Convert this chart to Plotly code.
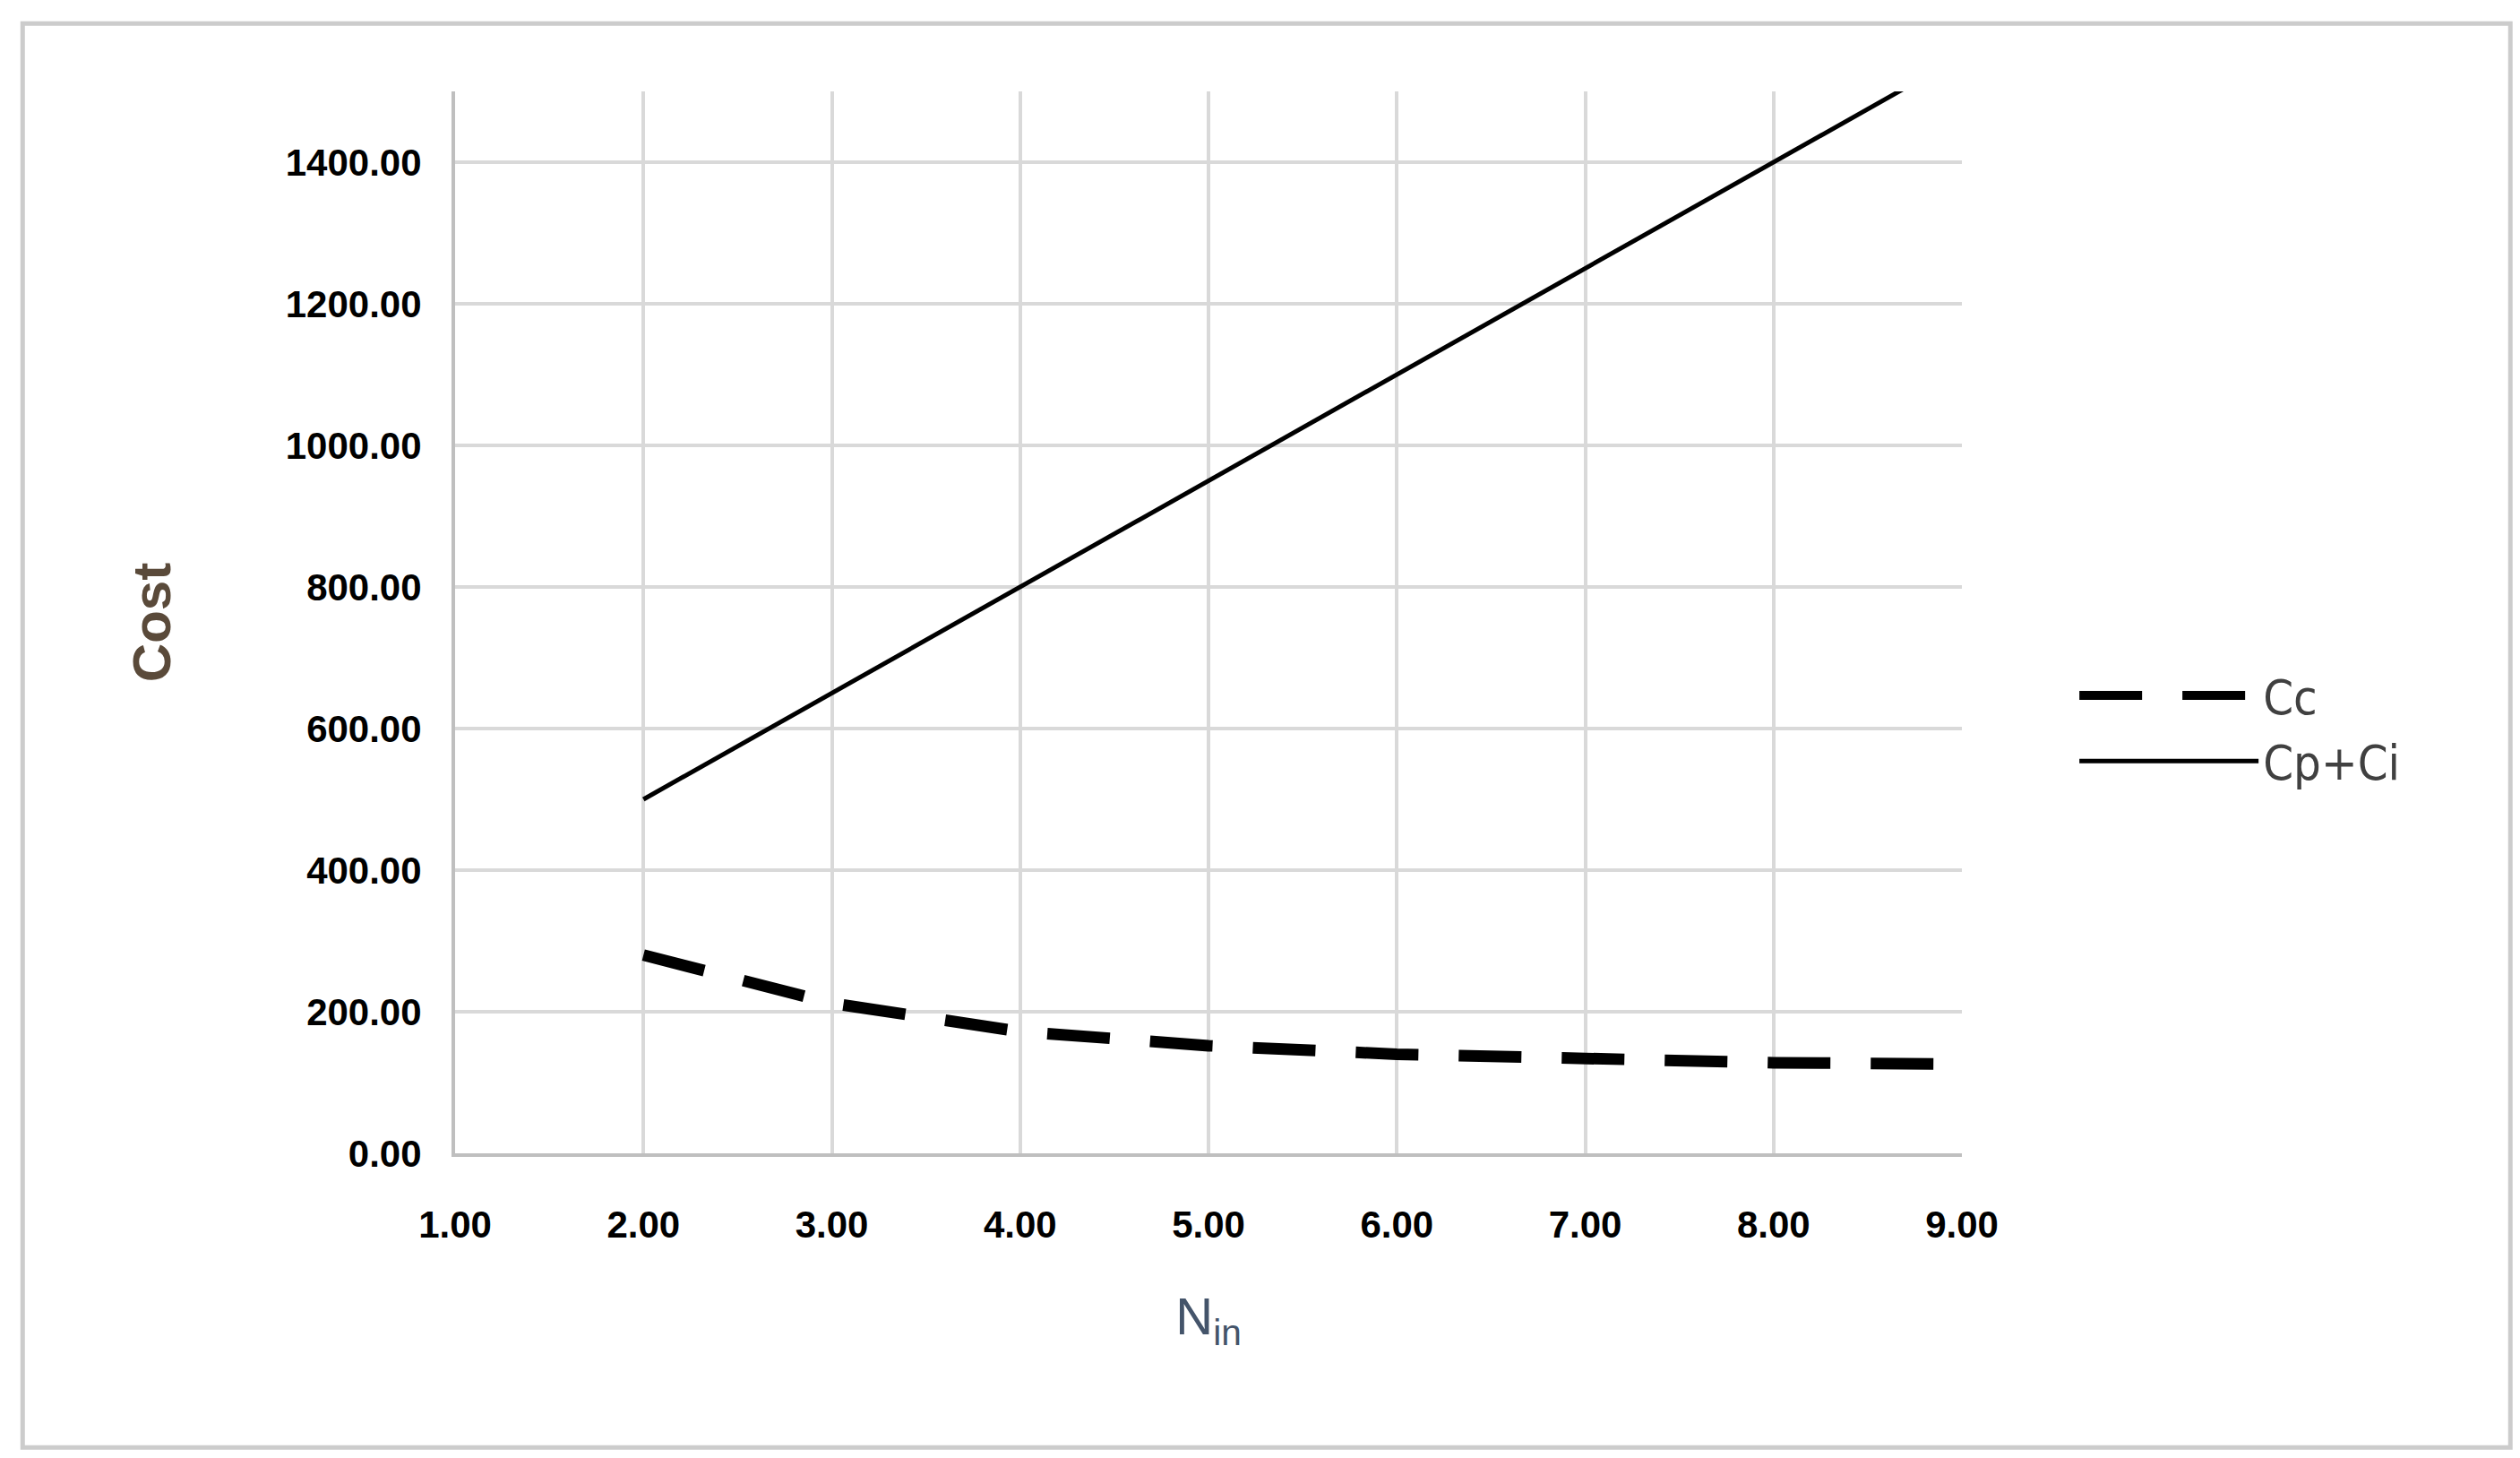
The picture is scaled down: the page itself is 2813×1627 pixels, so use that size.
import plotly.graph_objects as go

n_in = [2, 3, 4, 5, 6, 7, 8, 9]
cc = [280, 212, 172, 152, 140, 133, 128, 126]
cp_ci = [500, 650, 800, 950, 1100, 1250, 1400, 1550]

x_ticks = [1, 2, 3, 4, 5, 6, 7, 8, 9]
y_ticks = [0, 200, 400, 600, 800, 1000, 1200, 1400]

fig = go.Figure()
fig.add_trace(go.Scatter(x=n_in, y=cc, name="Cc", mode="lines",
                         line=dict(color="black", width=13, dash="70px,45px")))
fig.add_trace(go.Scatter(x=n_in, y=cp_ci, name="Cp+Ci", mode="lines",
                         line=dict(color="black", width=5)))

tick_font = dict(family="Liberation Sans, Arial", size=42, color="black", weight="bold")
fig.update_layout(
    width=2813, height=1627,
    paper_bgcolor="white", plot_bgcolor="white",
    margin=dict(l=500, r=631, t=94, b=348),
    xaxis=dict(range=[1, 9], tickvals=x_ticks, ticktext=[f"{v:.2f}" for v in x_ticks],
               showgrid=True, gridcolor="#d9d9d9", gridwidth=4,
               showline=True, linecolor="#bfbfbf", linewidth=4, ticks="",
               tickfont=tick_font, ticklabelstandoff=40,
               title=dict(text="N<sub>in</sub>", standoff=60,
                          font=dict(family="Liberation Sans, Arial", size=58, color="#44546a"))),
    yaxis=dict(range=[0, 1500], tickvals=y_ticks, ticktext=[f"{v:.2f}" for v in y_ticks],
               showgrid=True, gridcolor="#d9d9d9", gridwidth=4, zeroline=False,
               showline=True, linecolor="#bfbfbf", linewidth=4, ticks="",
               tickfont=tick_font, ticklabelstandoff=25,
               title=dict(text="Cost", standoff=110,
                          font=dict(family="Liberation Sans Narrow, Liberation Sans", size=60, color="#5a4a3a", weight="bold"))),
    legend=dict(x=1.075, y=0.40, xanchor="left", yanchor="middle",
                font=dict(family="Liberation Sans Narrow, DejaVu Sans Condensed", size=54, color="#404040"),
                itemwidth=200, tracegroupgap=60),
    shapes=[dict(type="rect", xref="paper", yref="paper", x0=-0.287, x1=1.364, y0=-0.277, y1=1.064,
                 line=dict(color="#cccccc", width=5))],
)

fig.write_html("out.html")
